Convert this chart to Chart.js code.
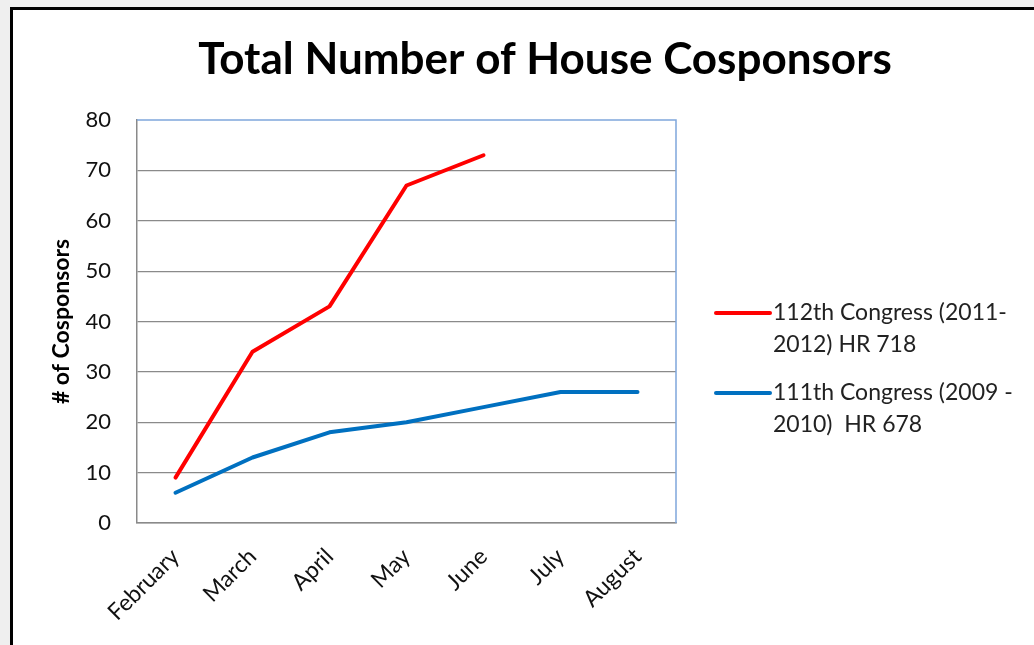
<!DOCTYPE html>
<html>
<head>
<meta charset="utf-8">
<script src="https://cdn.jsdelivr.net/npm/chart.js@4"></script>
<style>
  html, body { margin: 0; padding: 0; width: 1034px; height: 645px; overflow: hidden; background: #efefef; }
  #frame { position: absolute; left: 10px; top: 7px; width: 1100px; height: 700px; border: 3px solid #000; background: #fff; }
  #wrap { position: absolute; left: 0; top: 0; width: 1034px; height: 645px; }
</style>
</head>
<body>
<div id="frame"></div>
<div id="wrap"><canvas id="c" width="1034" height="645"></canvas></div>
<script>
const chartTitle = "Total Number of House Cosponsors";
const yAxisTitle = "# of Cosponsors";
const categories = ["February", "March", "April", "May", "June", "July", "August"];
const series112 = [9, 34, 43, 67, 73, null, null];
const series111 = [6, 13, 18, 20, 23, 26, 26];
const label112 = ["112th Congress (2011-", "2012) HR 718"];
const label111 = ["111th Congress (2009 -", "2010)  HR 678"];
const yTicks = [0, 10, 20, 30, 40, 50, 60, 70, 80];

const FONT = "Lato, 'Open Sans', sans-serif";
const PAD = { left: 40, top: 120, right: 358, bottom: 0 };

const titlePlugin = {
  id: 'customTitle',
  afterDraw(chart) {
    const ctx = chart.ctx;
    ctx.save();
    ctx.font = "bold 44px " + FONT;
    ctx.fillStyle = "#000";
    ctx.textAlign = "center";
    ctx.textBaseline = "middle";
    ctx.fillText(chartTitle, 545, 60);
    ctx.restore();
  }
};

const framePlugin = {
  id: 'plotFrame',
  afterDatasetsDraw(chart) {
    const a = chart.chartArea, ctx = chart.ctx;
    ctx.save();
    ctx.strokeStyle = "#7fa6dc";
    ctx.lineWidth = 1.5;
    ctx.beginPath();
    ctx.moveTo(a.left, a.top);
    ctx.lineTo(a.right, a.top);
    ctx.lineTo(a.right, a.bottom);
    ctx.stroke();
    ctx.restore();
  }
};

const legendPlugin = {
  id: 'customLegend',
  afterDraw(chart) {
    const ctx = chart.ctx;
    const a = chart.chartArea;
    const x0 = a.right + 40, lineLen = 54, textX = x0 + lineLen + 3;
    const startY = 313, itemGap = 80, lineH = 32;
    ctx.save();
    chart.data.datasets.forEach((ds, i) => {
      const y = startY + i * itemGap;
      ctx.strokeStyle = ds.borderColor;
      ctx.lineWidth = 4;
      ctx.lineCap = "round";
      ctx.beginPath();
      ctx.moveTo(x0, y);
      ctx.lineTo(x0 + lineLen, y);
      ctx.stroke();
      ctx.font = "23px " + FONT;
      ctx.fillStyle = "#222";
      ctx.textAlign = "left";
      ctx.textBaseline = "middle";
      ds.legendLines.forEach((t, j) => ctx.fillText(t, textX, y + j * lineH));
    });
    ctx.restore();
  }
};

new Chart(document.getElementById('c'), {
  type: 'line',
  data: {
    labels: categories,
    datasets: [
      { label: label112.join(" "), legendLines: label112, data: series112, borderColor: "#ff0000", backgroundColor: "#ff0000",
        borderWidth: 4, pointRadius: 0, tension: 0, borderCapStyle: "round", borderJoinStyle: "round", spanGaps: false },
      { label: label111.join(" "), legendLines: label111, data: series111, borderColor: "#0070c0", backgroundColor: "#0070c0",
        borderWidth: 4, pointRadius: 0, tension: 0, borderCapStyle: "round", borderJoinStyle: "round" }
    ]
  },
  options: {
    responsive: false,
    animation: false,
    devicePixelRatio: 1,
    layout: { padding: PAD },
    plugins: { legend: { display: false }, title: { display: false }, tooltip: { enabled: false } },
    scales: {
      x: {
        offset: true,
        grid: { display: false, drawTicks: false },
        border: { display: true, color: "#8a8a8a", width: 1.5 },
        ticks: { color: "#111", font: { family: FONT, size: 23 }, maxRotation: 45, minRotation: 45, padding: 20, autoSkip: false },
        afterFit(s) { s.height = 645 - 523; }
      },
      y: {
        min: 0, max: 80,
        afterBuildTicks(s) { s.ticks = yTicks.map(v => ({ value: v })); },
        grid: { drawTicks: false, color: ctx => (ctx.tick && ctx.tick.value === 80) ? "rgba(0,0,0,0)" : "#8a8a8a", lineWidth: 1.2 },
        border: { display: true, color: "#8a8a8a", width: 1.5 },
        ticks: { color: "#111", font: { family: FONT, size: 22 }, padding: 26 },
        title: { display: true, text: yAxisTitle, color: "#000", font: { family: FONT, size: 23, weight: "bold" }, padding: { top: 8, bottom: 0 } },
        afterFit(s) { s.width = 137 - PAD.left; }
      }
    }
  },
  plugins: [titlePlugin, framePlugin, legendPlugin]
});
</script>
</body>
</html>
